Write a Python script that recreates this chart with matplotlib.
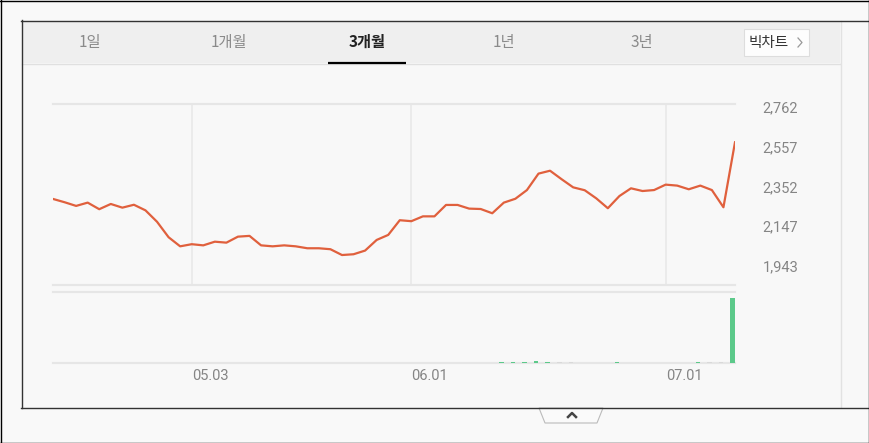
import numpy as np
import matplotlib.pyplot as plt
from matplotlib.patches import Rectangle, Polygon

W, H, DPI = 869, 443, 100

#======data=========#
price = [2287, 2270, 2251, 2268, 2234, 2261, 2242, 2257, 2228, 2169,
         2089, 2042, 2053, 2047, 2066, 2061, 2092, 2096, 2047, 2042,
         2047, 2042, 2032, 2032, 2027, 1997, 2001, 2020, 2075, 2101,
         2177, 2172, 2197, 2197, 2256, 2256, 2237, 2235, 2213, 2268,
         2288, 2333, 2418, 2433, 2389, 2347, 2332, 2290, 2239, 2302,
         2342, 2328, 2333, 2361, 2356, 2337, 2356, 2333, 2244, 2580]
volume = [4, 3, 3, 3, 3, 3, 3, 3, 4, 6,
          8, 5, 4, 3, 3, 3, 4, 4, 3, 3,
          3, 3, 3, 3, 3, 4, 3, 3, 6, 7,
          10, 6, 8, 6, 10, 7, 6, 5, 6, 12,
          14, 16, 40, 18, 14, 12, 10, 9, 10, 12,
          9, 7, 8, 10, 8, 7, 20, 14, 16, 1400]
date_ticks = [12, 31, 53]
date_labels = ['05.03', '06.01', '07.01']
price_ticks = [1943, 2147, 2352, 2557, 2762]
tabs = ['1일', '1개월', '3개월', '1년', '3년']
active_tab = '3개월'

#======style=========#
plt.rcParams['font.family'] = ['Noto Sans CJK KR', 'DejaVu Sans']
line_color = '#e0603d'
up_color = '#5cc98a'
flat_color = '#d9d9d9'
grid_color = '#e6e6e6'
label_color = '#858585'

fig = plt.figure(figsize=(W / DPI, H / DPI), dpi=DPI)
fig.patch.set_facecolor('#f9f9f9')


def px_axes(x0, y0, x1, y1, **kw):
    return fig.add_axes([x0 / W, 1 - y1 / H, (x1 - x0) / W, (y1 - y0) / H], **kw)


# background / frame in pixel coordinates
bg = px_axes(0, 0, W, H)
bg.set_xlim(0, W)
bg.set_ylim(H, 0)
bg.axis('off')
bg.add_patch(Rectangle((21, 20), 848, 388, facecolor='#f8f8f8', edgecolor='none'))
bg.add_patch(Rectangle((22, 21), 818, 42, facecolor='#efefef', edgecolor='none'))
bg.plot([22, 840], [63.5, 63.5], color='#e0e0e0', lw=1)
bg.plot([840.5, 840.5], [21, 407], color='#e2e2e2', lw=1)
# frame lines
bg.plot([21.5, 21.5], [20, 407.5], color='#333333', lw=1)
bg.plot([21, W], [20.5, 20.5], color='#333333', lw=1)
bg.plot([21, W], [407.5, 407.5], color='#333333', lw=1)
for xx in (0.5, W - 0.5):
    bg.plot([xx, xx], [0, H], color='black', lw=1)
for yy in (0.5, H - 0.5):
    bg.plot([0, W], [yy, yy], color='black', lw=1)

# tabs
tab_x = [90, 229, 367, 504, 642]
for label, tx in zip(tabs, tab_x):
    active = label == active_tab
    bg.text(tx, 42, label, ha='center', va='center', fontsize=11,
            color='#222222' if active else '#8a8a8a',
            fontweight='bold' if active else 'normal')
    if active:
        bg.plot([328, 406], [62.5, 62.5], color='black', lw=1.6, solid_capstyle='butt')
bg.add_patch(Rectangle((744, 29), 65, 27, facecolor='#fdfdfd', edgecolor='#dddddd', lw=0.8))
bg.text(769, 42.5, '빅차트', ha='center', va='center', fontsize=10.5, color='#333333')
bg.plot([798, 802, 798], [38, 42.5, 47], color='#999999', lw=0.9)

# bottom handle
bg.add_patch(Polygon([(539, 408), (545, 423), (597, 423), (603, 408)], closed=True,
                     facecolor='#fafafa', edgecolor='#bbbbbb', lw=0.8))
bg.plot([568, 572, 576], [417, 413, 417], color='#444444', lw=1.8)

#======price panel=========#
x = np.arange(len(price))
ax = px_axes(53, 104, 735, 285)
ax.set_facecolor('none')
ax.plot(x, price, color=line_color, lw=1.6, zorder=3)
for t in date_ticks:
    ax.axvline(t, color='#e9e9e9', lw=1.2, zorder=1)
ax.set_xlim(0, len(price) - 1)
ax.set_ylim(1842, 2778)
for s in ('left', 'right'):
    ax.spines[s].set_visible(False)
for s in ('top', 'bottom'):
    ax.spines[s].set_color(grid_color)
    ax.spines[s].set_linewidth(1.6)
ax.set_xticks([])
ax.yaxis.tick_right()
ax.set_yticks(price_ticks)
ax.set_yticklabels([f'{v:,}' for v in price_ticks], family='Roboto',
                   fontsize=10.5, color=label_color)
ax.tick_params(axis='y', length=0, pad=20)

#======volume panel=========#
colors = [up_color if i == len(volume) - 1 or price[i] >= price[i - 1] else flat_color
          for i in range(len(volume))]
av = px_axes(53, 292, 735, 363)
av.set_facecolor('none')
av.bar(x, volume, width=-0.4, align='edge', color=colors, zorder=3)
av.set_xlim(0, len(price) - 1)
av.set_ylim(0, max(volume) * 71 / 65)
for s in ('left', 'right'):
    av.spines[s].set_visible(False)
for s in ('top', 'bottom'):
    av.spines[s].set_color(grid_color)
    av.spines[s].set_linewidth(1.6)
av.set_yticks([])
av.set_xticks(date_ticks)
av.set_xticklabels(date_labels, family='Roboto', fontsize=10.5,
                   color=label_color, ha='left')
av.tick_params(axis='x', length=0, pad=4)

fig.savefig('out.png', dpi=DPI, facecolor=fig.get_facecolor())
